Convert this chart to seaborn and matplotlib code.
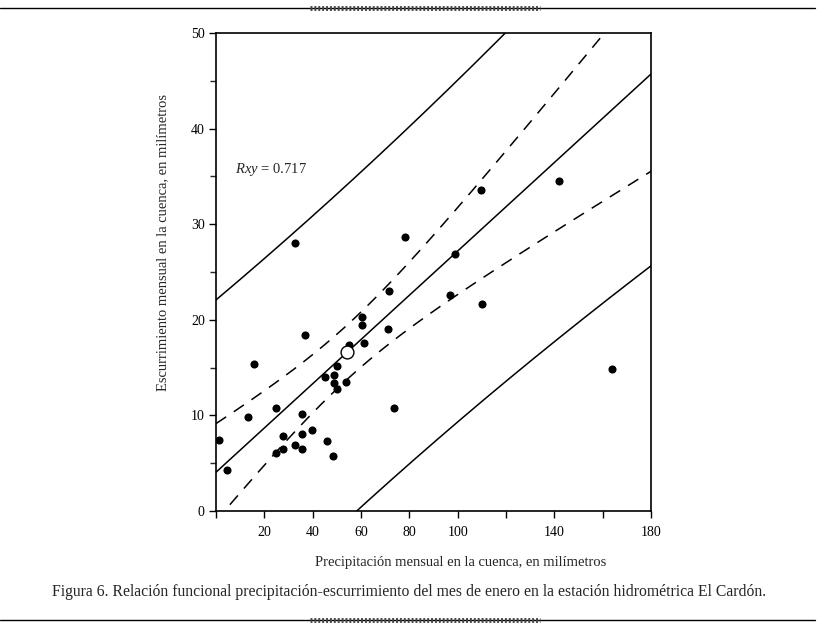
import numpy as np
import pandas as pd
import matplotlib
matplotlib.use("Agg")
import matplotlib.pyplot as plt
import seaborn as sns

# Datos (precipitacion vs escurrimiento, mes de enero)
precipitacion = [1.2, 4.5, 13.2, 15.7, 24.8, 24.8, 27.7, 27.7, 32.7, 32.7,
                 35.6, 35.6, 35.8, 36.8, 39.7, 45.9, 45.1, 48.4, 48.8, 48.8,
                 50.1, 50.1, 53.8, 55.0, 60.4, 60.5, 61.2, 71.2, 71.6, 73.6,
                 78.2, 96.8, 98.9, 109.6, 110.0, 141.9, 163.8]
escurrimiento = [7.4, 4.3, 9.8, 15.4, 10.8, 6.1, 7.8, 6.5, 28.0, 6.9,
                 10.1, 8.1, 6.5, 18.4, 8.5, 7.3, 14.0, 5.8, 14.2, 13.4,
                 15.2, 12.8, 13.5, 17.4, 20.3, 19.5, 17.6, 19.0, 23.0, 10.8,
                 28.7, 22.6, 26.9, 33.6, 21.7, 34.5, 14.9]
xticks_lab = [20, 40, 60, 80, 100, 140, 180]

# Parametros de la recta y las bandas
intercepto = 4.05
pendiente = 0.2314
x_media = 54.3
t_s = 17.29        # t * error estandar
sxx = 49500.0
rxy = 0.717

df = pd.DataFrame({"P": precipitacion, "E": escurrimiento})
n = len(df)

xx = np.linspace(0, 180, 400)
yy = intercepto + pendiente * xx
ci = t_s * np.sqrt(1 / n + (xx - x_media) ** 2 / sxx)
pi = t_s * np.sqrt(1 + 1 / n + (xx - x_media) ** 2 / sxx)

sns.set_style("ticks")
plt.rcParams["font.family"] = ["Liberation Serif", "DejaVu Serif"]
plt.rcParams["mathtext.fontset"] = "custom"
plt.rcParams["mathtext.it"] = "Liberation Serif:italic"
plt.rcParams["mathtext.rm"] = "Liberation Serif"

fig = plt.figure(figsize=(8.3, 6.31), dpi=100)
ax = fig.add_axes([0.2602, 0.1902, 0.5241, 0.7575])

ax.plot(xx, yy, color="black", lw=1.1)
ax.plot(xx, yy + ci, color="black", lw=1.1, dashes=(8, 6))
ax.plot(xx, yy - ci, color="black", lw=1.1, dashes=(8, 6))
ax.plot(xx, yy + pi, color="black", lw=1.1)
ax.plot(xx, yy - pi, color="black", lw=1.1)

sns.scatterplot(data=df, x="P", y="E", color="black", s=34, edgecolor="black",
                linewidth=0, ax=ax, zorder=3)
ax.scatter([x_media], [intercepto + pendiente * x_media], s=85, facecolor="white",
           edgecolor="black", linewidth=1.0, zorder=4)

ax.set_xlim(0, 180)
ax.set_ylim(0, 50)
ax.set_xticks(np.arange(0, 181, 20))
ax.set_xticklabels(["" if v not in xticks_lab else str(v) for v in range(0, 181, 20)])
ax.set_yticks(np.arange(0, 51, 10))
ax.set_yticks(np.arange(5, 50, 10), minor=True)
ax.tick_params(axis="both", which="major", direction="out", length=5, width=1,
               labelsize=10, colors="black")
ax.tick_params(axis="x", pad=6)
ax.tick_params(axis="y", pad=3)
ax.tick_params(axis="y", which="minor", direction="out", length=4, width=1)
for sp in ax.spines.values():
    sp.set_linewidth(1.2)
    sp.set_color("black")
    sp.set_visible(True)

ax.set_xlabel("Precipitación mensual en la cuenca, en milímetros", fontsize=10.5)
ax.xaxis.set_label_coords(0.562, -0.095)
ax.set_ylabel("Escurrimiento mensual en la cuenca, en milímetros", fontsize=10.5)
ax.yaxis.set_label_coords(-0.108, 0.562)

ax.text(7.9, 35.7, r"$Rxy$ = %.3f" % rxy, fontsize=10.5, va="center", ha="left")

fig.text(0.4928, 0.062, "Figura 6. Relación funcional precipitación-escurrimiento del mes de enero "
         "en la estación hidrométrica El Cardón.", ha="center", va="center", fontsize=11.3)

# lineas decorativas
for yl in (0.987, 0.017):
    fig.add_artist(plt.Line2D([0.0, 0.982], [yl, yl], color="black", lw=1.0))
    fig.add_artist(plt.Line2D([0.374, 0.651], [yl, yl], color="#444444", lw=3.5,
                              dashes=(0.4, 0.4)))

fig.savefig("out.png", dpi=100)
